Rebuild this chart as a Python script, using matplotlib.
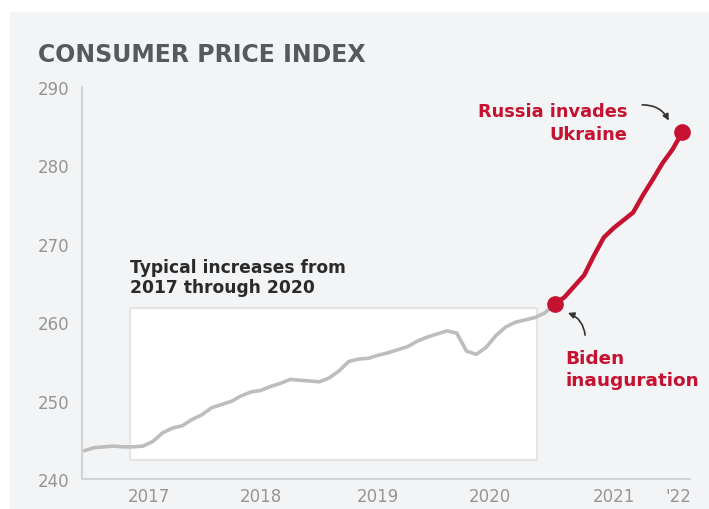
import numpy as np
import matplotlib.pyplot as plt
from matplotlib.patches import Rectangle

# Monthly CPI, Jan 2017 - Jan 2021 (gray) and Jan 2021 - Feb 2022 (red)
cpi_before = [243.6, 244.0, 244.1, 244.2, 244.1, 244.1, 244.2, 244.8, 245.9, 246.5,
              246.8, 247.6, 248.2, 249.1, 249.5, 249.9, 250.6, 251.1, 251.3, 251.8,
              252.2, 252.7, 252.6, 252.5, 252.4, 252.9, 253.8, 255.0, 255.3, 255.4,
              255.8, 256.1, 256.5, 256.9, 257.6, 258.1, 258.5, 258.9, 258.6, 256.3,
              255.9, 256.8, 258.3, 259.4, 260.0, 260.3, 260.6, 261.2, 262.3]
cpi_after = [262.3, 263.2, 264.6, 266.0, 268.5, 270.8, 272.0, 273.0, 274.0, 276.2,
             278.2, 280.3, 282.0, 284.2]

year_ticks = [2017.55, 2018.5, 2019.5, 2020.45, 2021.5, 2022.05]
year_labels = ['2017', '2018', '2019', '2020', '2021', "'22"]
y_ticks = [240, 250, 260, 270, 280, 290]

# shaded "typical" window: Jun 2017 - Nov 2020, 242.4 - 261.8
box_x = (2017.39, 2020.85)
box_y = (242.4, 261.8)

x_before = 2017 + np.arange(len(cpi_before)) / 12
x_after = 2021 + np.arange(len(cpi_after)) / 12

red = '#c41230'
gray_line = '#bdbdbd'
panel = '#f3f4f6'

fig = plt.figure(figsize=(7.09, 5.10), dpi=100)
fig.patch.set_facecolor('white')
fig.patches.append(Rectangle((10 / 709, 0), 1, 1 - 13 / 510, transform=fig.transFigure,
                             facecolor=panel, edgecolor='none', zorder=-1))

ax = fig.add_axes([82 / 709, 30 / 510, (690 - 82) / 709, (480 - 88) / 510])
ax.set_facecolor('none')

ax.add_patch(Rectangle((box_x[0], box_y[0]), box_x[1] - box_x[0], box_y[1] - box_y[0],
                       facecolor='white', edgecolor='#e4e5e7', lw=1.5, zorder=1))

ax.plot(x_before, cpi_before, color=gray_line, lw=2.6, solid_capstyle='round', zorder=2)
ax.plot(x_after, cpi_after, color=red, lw=3.2, solid_capstyle='round', zorder=3)
ax.plot([x_after[0], x_after[-1]], [cpi_after[0], cpi_after[-1]], 'o',
        color=red, ms=11, zorder=4)

ax.set_xlim(2016.98, 2022.15)
ax.set_ylim(240, 290)
ax.set_xticks(year_ticks)
ax.set_xticklabels(year_labels)
ax.set_yticks(y_ticks)
ax.tick_params(length=0, labelsize=12, colors='#959595', pad=9)
ax.tick_params(axis='x', pad=6)
for side in ['top', 'right']:
    ax.spines[side].set_visible(False)
for side in ['left', 'bottom']:
    ax.spines[side].set_color('#d2d3d5')
    ax.spines[side].set_linewidth(1.5)

fig.text(38 / 709, 1 - 55 / 510, 'CONSUMER PRICE INDEX', fontsize=17,
         fontweight='bold', color='#58595b', va='center', ha='left')

ax.text(box_x[0], 263.3, 'Typical increases from\n2017 through 2020', fontsize=12.3,
        fontweight='bold', color='#2a2a2a', ha='left', va='bottom', linespacing=1.2)

ax.text(2021.62, 285.5, 'Russia invades\nUkraine', fontsize=12.8, fontweight='bold',
        color=red, ha='right', va='center', linespacing=1.35, multialignment='right')
ax.annotate('', xy=(2021.98, 285.4), xytext=(2021.72, 287.7),
            arrowprops=dict(arrowstyle='-|>', color='#333333', lw=1.2,
                            connectionstyle='arc3,rad=-0.35', mutation_scale=9))

ax.text(2021.09, 254.0, 'Biden\ninauguration', fontsize=13.3, fontweight='bold',
        color=red, ha='left', va='center', linespacing=1.3)
ax.annotate('', xy=(2021.09, 261.3), xytext=(2021.26, 258.0),
            arrowprops=dict(arrowstyle='-|>', color='#333333', lw=1.2,
                            connectionstyle='arc3,rad=0.35', mutation_scale=9))

plt.savefig('out.png', dpi=100)
